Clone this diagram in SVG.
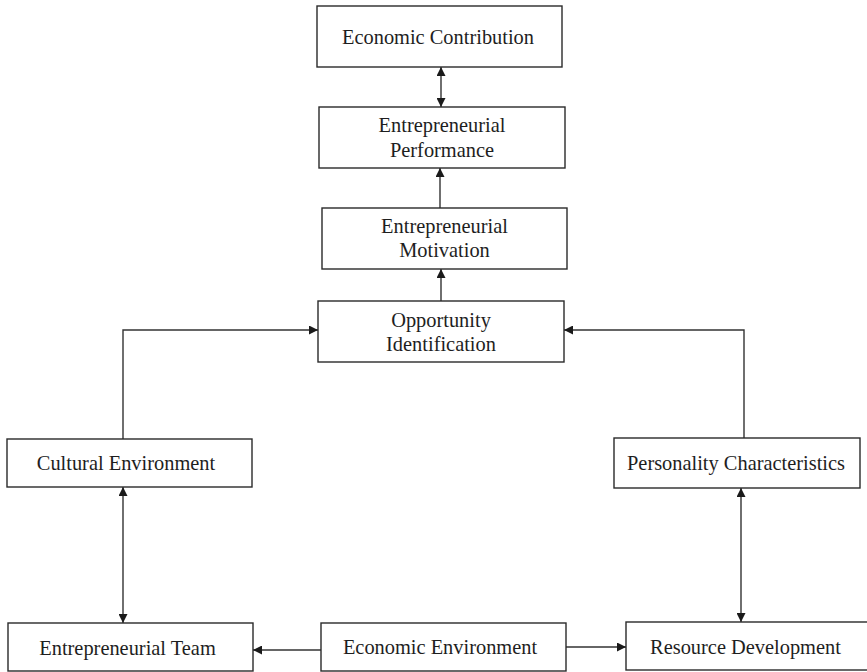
<svg xmlns="http://www.w3.org/2000/svg" width="867" height="672" viewBox="0 0 867 672">
  <style>
    .box { fill: #fff; stroke: #2a2a2a; stroke-width: 1.4; }
    .lbl { font-family: "Liberation Serif", "Times New Roman", serif; font-size: 20.4px; fill: #1e1e1e; text-anchor: middle; }
    .edge { fill: none; stroke: #333; stroke-width: 1.4; }
  </style>
  <defs>
    <marker id="arrow" viewBox="0 0 10 10" refX="10" refY="5" markerWidth="9" markerHeight="9" markerUnits="userSpaceOnUse" orient="auto-start-reverse">
      <path d="M0,0 L10,5 L0,10 z" fill="#1a1a1a"/>
    </marker>
  </defs>
  <rect width="867" height="672" fill="#fff"/>

  <g id="connectors">
    <line class="edge" x1="441" y1="67" x2="441" y2="107" marker-start="url(#arrow)" marker-end="url(#arrow)"/>
    <line class="edge" x1="440" y1="208" x2="440" y2="168" marker-end="url(#arrow)"/>
    <line class="edge" x1="441" y1="301" x2="441" y2="269" marker-end="url(#arrow)"/>
    <path class="edge" d="M123,439 V330 H318" marker-end="url(#arrow)"/>
    <path class="edge" d="M744,438 V330 H564" marker-end="url(#arrow)"/>
    <line class="edge" x1="123" y1="487" x2="123" y2="623" marker-start="url(#arrow)" marker-end="url(#arrow)"/>
    <line class="edge" x1="741" y1="488" x2="741" y2="622" marker-start="url(#arrow)" marker-end="url(#arrow)"/>
    <line class="edge" x1="321" y1="650" x2="253" y2="650" marker-end="url(#arrow)"/>
    <line class="edge" x1="566" y1="647" x2="626" y2="647" marker-end="url(#arrow)"/>
  </g>

  <g id="economic-contribution">
    <rect class="box" x="317" y="6" width="245" height="61"/>
    <text class="lbl" x="438" y="43.5">Economic Contribution</text>
  </g>
  <g id="entrepreneurial-performance">
    <rect class="box" x="319" y="107" width="246" height="61"/>
    <text class="lbl" x="442" y="132">Entrepreneurial</text>
    <text class="lbl" x="442" y="157">Performance</text>
  </g>
  <g id="entrepreneurial-motivation">
    <rect class="box" x="322" y="208" width="245" height="61"/>
    <text class="lbl" x="444.5" y="232.5">Entrepreneurial</text>
    <text class="lbl" x="444.5" y="257">Motivation</text>
  </g>
  <g id="opportunity-identification">
    <rect class="box" x="318" y="301" width="246" height="61"/>
    <text class="lbl" x="441" y="326.5">Opportunity</text>
    <text class="lbl" x="441" y="350.5">Identification</text>
  </g>
  <g id="cultural-environment">
    <rect class="box" x="7" y="439" width="245" height="48"/>
    <text class="lbl" x="126" y="469.5">Cultural Environment</text>
  </g>
  <g id="personality-characteristics">
    <rect class="box" x="614" y="438" width="246" height="50"/>
    <text class="lbl" x="736" y="470">Personality Characteristics</text>
  </g>
  <g id="entrepreneurial-team">
    <rect class="box" x="8" y="623" width="245" height="48"/>
    <text class="lbl" x="127.5" y="655">Entrepreneurial Team</text>
  </g>
  <g id="economic-environment">
    <rect class="box" x="321" y="623" width="245" height="48"/>
    <text class="lbl" x="440" y="654">Economic Environment</text>
  </g>
  <g id="resource-development">
    <rect class="box" x="626" y="622" width="250" height="48"/>
    <text class="lbl" x="745.5" y="653.5">Resource Development</text>
  </g>
</svg>
